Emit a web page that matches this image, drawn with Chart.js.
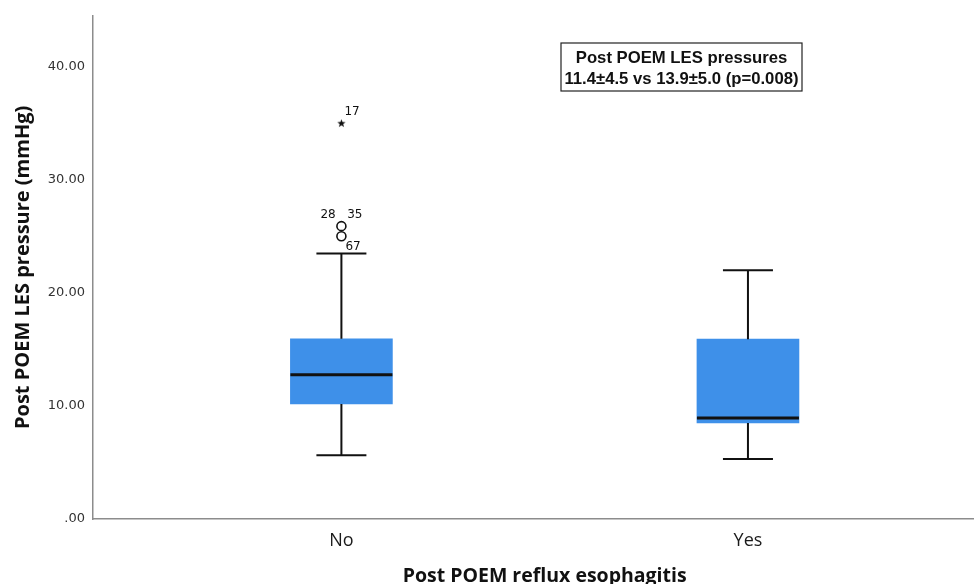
<!DOCTYPE html>
<html><head><meta charset="utf-8">
<script src="https://cdn.jsdelivr.net/npm/chart.js@4/dist/chart.umd.min.js"></script>
<style>html,body{margin:0;padding:0;background:#fff}#wrap{width:974px;height:584px}</style>
</head><body><div id="wrap"><canvas id="c"></canvas></div>
<script>
const categories = ["No", "Yes"];
const whiskerLow = [5.63, 5.3];
const q1 = [10.17, 8.5];
const median = [12.75, 8.93];
const q3 = [15.94, 15.9];
const whiskerHigh = [23.47, 22.0];
const outlierGroup = [0, 0, 0];
const outlierValue = [35.0, 25.9, 25.0];
const outlierKind = ["extreme", "mild", "mild"];
const outlierLabel = ["17", "28   35", "67"];
const yTicks = [0, 10, 20, 30, 40];
const annotationLines = ["Post POEM LES pressures", "11.4\u00b14.5 vs 13.9\u00b15.0 (p=0.008)"];
const xTitle = "Post POEM reflux esophagitis";
const yTitle = "Post POEM LES pressure (mmHg)";

const starImg = document.createElement('canvas');
starImg.width = 9; starImg.height = 9;
(function () {
  const g = starImg.getContext('2d');
  g.fillStyle = '#111';
  g.beginPath();
  for (let k = 0; k < 10; k++) {
    const r = k % 2 === 0 ? 4.4 : 1.8;
    const ang = -Math.PI / 2 + k * Math.PI / 5;
    const px = 4.5 + r * Math.cos(ang), py = 4.8 + r * Math.sin(ang);
    k === 0 ? g.moveTo(px, py) : g.lineTo(px, py);
  }
  g.closePath(); g.fill();
})();

const boxPlugin = {
  id: 'boxparts',
  afterDatasetsDraw(chart) {
    const ctx = chart.ctx, xs = chart.scales.x, ys = chart.scales.y;
    ctx.save();
    ctx.strokeStyle = '#111';
    categories.forEach((c, i) => {
      const cx = xs.getPixelForValue(i);
      ctx.lineWidth = 2;
      ctx.beginPath();
      ctx.moveTo(cx, ys.getPixelForValue(q3[i])); ctx.lineTo(cx, ys.getPixelForValue(whiskerHigh[i]));
      ctx.moveTo(cx, ys.getPixelForValue(q1[i])); ctx.lineTo(cx, ys.getPixelForValue(whiskerLow[i]));
      ctx.moveTo(cx - 25, ys.getPixelForValue(whiskerHigh[i])); ctx.lineTo(cx + 25, ys.getPixelForValue(whiskerHigh[i]));
      ctx.moveTo(cx - 25, ys.getPixelForValue(whiskerLow[i])); ctx.lineTo(cx + 25, ys.getPixelForValue(whiskerLow[i]));
      ctx.stroke();
      ctx.lineWidth = 3;
      ctx.beginPath();
      ctx.moveTo(cx - 51, ys.getPixelForValue(median[i])); ctx.lineTo(cx + 51, ys.getPixelForValue(median[i]));
      ctx.stroke();
    });
    ctx.fillStyle = '#111';
    ctx.font = '12px "DejaVu Sans"';
    ctx.textBaseline = 'middle';
    outlierValue.forEach((v, k) => {
      const px = xs.getPixelForValue(outlierGroup[k]);
      const py = ys.getPixelForValue(v);
      if (outlierKind[k] === 'extreme') { ctx.textAlign = 'left'; ctx.fillText(outlierLabel[k], px + 3, py - 11); }
      else if (k === 1) { ctx.textAlign = 'center'; ctx.fillText(outlierLabel[k], px, py - 11); }
      else { ctx.textAlign = 'left'; ctx.fillText(outlierLabel[k], px + 4, py + 11); }
    });
    const a = chart.chartArea;
    ctx.font = 'bold 16.7px "Liberation Sans"';
    ctx.textAlign = 'center';
    const bx = 561, by = 43, bw = 241, bh = 48;
    ctx.fillStyle = '#fff'; ctx.fillRect(bx, by, bw, bh);
    ctx.lineWidth = 1.2; ctx.strokeStyle = '#222'; ctx.strokeRect(bx, by, bw, bh);
    ctx.fillStyle = '#111';
    ctx.fillText(annotationLines[0], bx + bw / 2, by + 15);
    ctx.fillText(annotationLines[1], bx + bw / 2, by + 36);
    ctx.font = 'bold 19.5px "Open Sans"';
    ctx.fillText(xTitle, xs.getPixelForValue(0.5), 576);
    ctx.save();
    ctx.translate(23, (a.top + a.bottom) / 2);
    ctx.rotate(-Math.PI / 2);
    ctx.font = 'bold 20px "Open Sans"';
    ctx.fillText(yTitle, 0, 0);
    ctx.restore();
    ctx.restore();
  }
};

new Chart(document.getElementById('c'), {
  type: 'bar',
  data: {
    datasets: [
      {
        type: 'bar',
        data: categories.map((c, i) => ({ x: i, y: [q1[i], q3[i]] })),
        backgroundColor: '#3e90e9',
        borderWidth: 0,
        barThickness: 102
      },
      {
        type: 'scatter',
        data: outlierValue.map((v, k) => ({ x: outlierGroup[k], y: v })),
        pointStyle: outlierKind.map(k => k === 'extreme' ? starImg : 'circle'),
        pointRadius: 4.5,
        borderColor: '#111',
        backgroundColor: 'rgba(255,255,255,0)',
        borderWidth: 1.6
      }
    ]
  },
  options: {
    responsive: true,
    maintainAspectRatio: false,
    animation: false,
    layout: { autoPadding: false, padding: { top: 13, right: 0, left: 0, bottom: 0 } },
    plugins: { legend: { display: false }, tooltip: { enabled: false } },
    scales: {
      x: {
        type: 'linear',
        offset: false,
        min: -0.611,
        max: 1.556,
        grid: { display: false, drawTicks: false },
        border: { color: '#8c8c8c', width: 1.5 },
        afterBuildTicks(s) { s.ticks = categories.map((c, i) => ({ value: i })); },
        afterFit(s) { s.height = 65; },
        ticks: {
          includeBounds: false,
          padding: 11,
          color: '#1a1a1a',
          font: { family: 'Open Sans', size: 18 },
          callback: v => categories[v]
        }
      },
      y: {
        min: 0,
        max: 44.5,
        grid: { display: false, drawTicks: false },
        border: { color: '#8c8c8c', width: 1.5 },
        afterBuildTicks(s) { s.ticks = yTicks.map(v => ({ value: v })); },
        afterFit(s) { s.width = 93; },
        ticks: {
          includeBounds: false,
          padding: 8,
          color: '#333',
          font: { family: 'DejaVu Sans', size: 13 },
          callback: v => v === 0 ? '.00' : v.toFixed(2)
        }
      }
    }
  },
  plugins: [boxPlugin]
});
</script></body></html>
